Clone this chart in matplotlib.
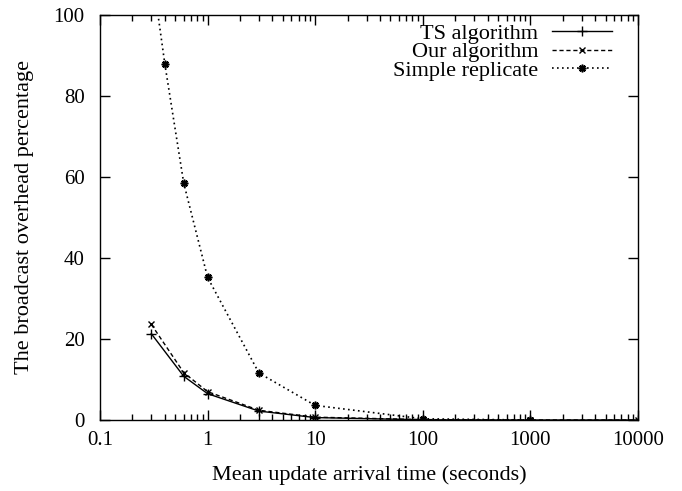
import matplotlib
matplotlib.use("Agg")
import matplotlib.pyplot as plt
from matplotlib.ticker import LogLocator, FixedLocator, NullFormatter

plt.rcParams['font.family'] = ['Liberation Serif', 'DejaVu Serif']

# Mean update arrival time (seconds)
arrival = [0.3, 0.6, 1, 3, 10, 100, 1000, 10000]
ts_algorithm = [21.3, 10.8, 6.5, 2.2, 0.6, 0.05, 0.0, 0.0]
our_algorithm = [23.6, 11.7, 7.0, 2.4, 0.7, 0.1, 0.0, 0.0]

arrival_simple = [0.3, 0.4, 0.6, 1, 3, 10, 100, 1000]
simple_replicate = [112.0, 88.0, 58.5, 35.2, 11.6, 3.6, 0.3, 0.0]

x_ticks = [0.1, 1, 10, 100, 1000, 10000]
x_tick_labels = ["0.1", "1", "10", "100", "1000", "10000"]
y_ticks = [0, 20, 40, 60, 80, 100]

fig = plt.figure(figsize=(6.82, 4.91), dpi=100)
ax = fig.add_axes([0.1466, 0.1446, 0.9355 - 0.1466, 0.9695 - 0.1446])

ax.plot(arrival, ts_algorithm, color='black', linestyle='-', linewidth=1.0,
        marker='+', markersize=7, markeredgewidth=1.0, label='TS algorithm')
ax.plot(arrival, our_algorithm, color='black', linestyle=(0, (3, 2)), linewidth=1.0,
        marker='x', markersize=5, markeredgewidth=1.0, label='Our algorithm')
ax.plot(arrival_simple, simple_replicate, color='black', linestyle=(0, (1, 2)), linewidth=1.2,
        marker=(8, 2, 0), markersize=5.5, markeredgewidth=1.2, label='Simple replicate')

ax.set_xscale('log')
ax.set_xlim(0.1, 10000)
ax.set_ylim(0, 100)
ax.xaxis.set_major_locator(FixedLocator(x_ticks))
ax.set_xticklabels(x_tick_labels)
ax.xaxis.set_minor_locator(LogLocator(base=10, subs=[2, 3, 4, 5, 6, 7, 8, 9], numticks=20))
ax.xaxis.set_minor_formatter(NullFormatter())
ax.set_yticks(y_ticks)

ax.tick_params(which='both', direction='in', top=True, right=True, labelsize=15, width=1.0)
ax.tick_params(which='major', length=7, pad=8)
ax.tick_params(axis='y', which='major', pad=11)
ax.tick_params(which='minor', length=4)
for s in ax.spines.values():
    s.set_linewidth(1.0)

ax.set_xlabel('Mean update arrival time (seconds)', fontsize=16, labelpad=11)
ax.set_ylabel('The broadcast overhead percentage', fontsize=16, labelpad=14)

leg = ax.legend(loc='upper right', frameon=False, markerfirst=False, fontsize=16,
                handlelength=2.7, handletextpad=0.6, labelspacing=-0.1,
                borderaxespad=0.2, bbox_to_anchor=(0.976, 1.012))
for t in leg.get_texts():
    t.set_ha('right')

fig.savefig('out.png', dpi=100)
